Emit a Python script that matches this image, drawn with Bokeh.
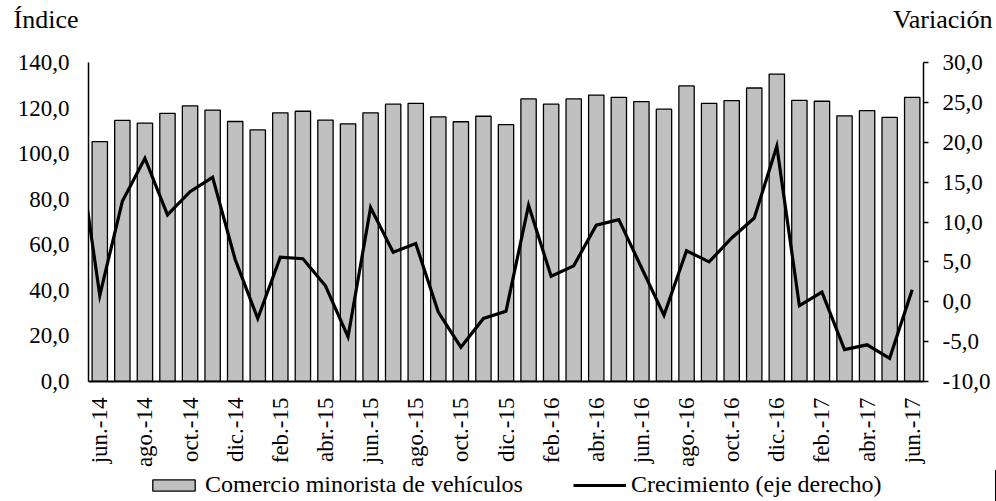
import math
from bokeh.plotting import figure
from bokeh.layouts import column
from bokeh.models import (ColumnDataSource, Range1d, LinearAxis, FixedTicker,
                          Legend, LegendItem, Label)
from bokeh.embed import file_html
from bokeh.resources import INLINE

# ---- data ----
meses = ["jun.-14", "jul.-14", "ago.-14", "sep.-14", "oct.-14", "nov.-14", "dic.-14",
         "ene.-15", "feb.-15", "mar.-15", "abr.-15", "may.-15", "jun.-15", "jul.-15",
         "ago.-15", "sep.-15", "oct.-15", "nov.-15", "dic.-15", "ene.-16", "feb.-16",
         "mar.-16", "abr.-16", "may.-16", "jun.-16", "jul.-16", "ago.-16", "sep.-16",
         "oct.-16", "nov.-16", "dic.-16", "ene.-17", "feb.-17", "mar.-17", "abr.-17",
         "may.-17", "jun.-17"]
indice = [105.3, 114.6, 113.4, 117.7, 121.0, 119.1, 114.1, 110.4, 117.9, 118.6,
          114.7, 113.1, 117.9, 121.7, 122.1, 116.1, 114.0, 116.4, 112.7, 124.0,
          121.7, 124.0, 125.7, 124.7, 122.8, 119.5, 129.7, 122.1, 123.3, 128.8,
          134.9, 123.4, 123.0, 116.6, 118.9, 115.9, 124.7]
crecimiento = [0.8, 12.6, 18.0, 10.9, 13.8, 15.6, 5.3, -2.1, 5.6, 5.4,
               2.0, -4.4, 11.8, 6.2, 7.3, -1.3, -5.7, -2.1, -1.2, 12.1,
               3.2, 4.5, 9.6, 10.3, 4.3, -1.7, 6.4, 5.0, 8.0, 10.5,
               19.5, -0.5, 1.2, -6.0, -5.4, -7.1, 1.5]
crecimiento_previo = 20.6  # may.-14, only its segment into the frame is visible
ticks_izq = [0, 20, 40, 60, 80, 100, 120, 140]
ticks_der = [-10, -5, 0, 5, 10, 15, 20, 25, 30]
titulo_izq = "Índice"
titulo_der = "Variación"
serie_barras = "Comercio minorista de vehículos"
serie_linea = "Crecimiento (eje derecho)"

FONT = "Liberation Serif"
FS = "23px"
W = 996
BAR_STYLE = dict(fill_color="#C0C0C0", line_color="black", line_width=1.3)
LINE_STYLE = dict(line_color="black", line_width=3.2, line_join="miter")

def coma(v):
    return f"{v:.1f}".replace(".", ",")

def bare(h, xr=(0, 1)):
    f = figure(width=W, height=h, output_backend="svg", toolbar_location=None,
               x_range=Range1d(*xr), y_range=Range1d(0, 1),
               x_axis_type=None, y_axis_type=None, frame_align=False,
               min_border_left=0, min_border_right=0, min_border_top=0, min_border_bottom=0)
    f.outline_line_color = None
    f.xgrid.visible = False
    f.ygrid.visible = False
    return f

# ---- top strip with the axis titles ----
top = bare(40)
top.add_layout(Label(x=13, y=21, x_units="screen", y_units="screen", text=titulo_izq,
                     text_font=FONT, text_font_size="26px", text_color="black",
                     text_baseline="middle", text_align="left"))
top.add_layout(Label(x=W - 4, y=21, x_units="screen", y_units="screen", text=titulo_der,
                     text_font=FONT, text_font_size="26px", text_color="black",
                     text_baseline="middle", text_align="right"))

# ---- main chart ----
x = list(range(len(meses)))
src_bar = ColumnDataSource(dict(x=x, indice=indice))
src_line = ColumnDataSource(dict(x=[-1] + x, y=[crecimiento_previo] + crecimiento))

p = figure(width=W, height=430, output_backend="svg", toolbar_location=None,
           x_range=Range1d(-0.5, len(meses) - 0.5), y_range=Range1d(0, 140),
           min_border_left=88, min_border_right=73, min_border_top=22,
           min_border_bottom=87, frame_align=False)
p.extra_y_ranges = {"der": Range1d(-10, 30)}
p.outline_line_color = None
p.xgrid.visible = False
p.ygrid.visible = False

p.vbar(x="x", top="indice", width=0.68, source=src_bar, **BAR_STYLE)
p.line(x="x", y="y", source=src_line, y_range_name="der", **LINE_STYLE)

ya = p.yaxis[0]
ya.ticker = FixedTicker(ticks=ticks_izq)
ya.major_label_overrides = {t: coma(t) for t in ticks_izq}
ya.major_tick_out = 0
ya.major_tick_in = 0
ya.minor_tick_out = 0
ya.minor_tick_in = 0
ya.axis_line_color = "black"
ya.axis_line_width = 1.5
ya.major_label_standoff = 19
ya.major_label_text_font = FONT
ya.major_label_text_font_size = FS
ya.major_label_text_color = "black"

yr = LinearAxis(y_range_name="der", ticker=FixedTicker(ticks=ticks_der))
yr.major_label_overrides = {t: coma(t) for t in ticks_der}
yr.major_tick_out = 5
yr.major_tick_in = 0
yr.minor_tick_out = 0
yr.minor_tick_in = 0
yr.axis_line_color = "black"
yr.axis_line_width = 1.5
yr.major_tick_line_width = 1.5
yr.major_label_standoff = 14
yr.major_label_text_font = FONT
yr.major_label_text_font_size = FS
yr.major_label_text_color = "black"
p.add_layout(yr, "right")

xa = p.xaxis[0]
xa.ticker = FixedTicker(ticks=[i for i in x if i % 2 == 0])
xa.major_label_overrides = {i: meses[i] for i in x if i % 2 == 0}
xa.major_label_orientation = math.pi / 2
xa.major_tick_out = 0
xa.major_tick_in = 0
xa.minor_tick_out = 0
xa.minor_tick_in = 0
xa.axis_line_color = "black"
xa.axis_line_width = 2
xa.major_label_standoff = 16
xa.major_label_text_font = FONT
xa.major_label_text_font_size = FS
xa.major_label_text_color = "black"

# ---- bottom strip with the legend (same series, drawn outside its visible range) ----
bot = bare(31, xr=(-10, -9))
r_bar = bot.vbar(x="x", top="indice", width=0.68, source=src_bar, **BAR_STYLE)
r_line = bot.line(x="x", y="y", source=src_line, **LINE_STYLE)
legend = Legend(items=[LegendItem(label=serie_barras, renderers=[r_bar]),
                       LegendItem(label=serie_linea, renderers=[r_line])],
                orientation="horizontal", location=(147, 3),
                glyph_width=53, glyph_height=14, label_standoff=5, spacing=50,
                label_height=24, label_text_font=FONT, label_text_font_size="24px",
                label_text_color="black", label_text_baseline="middle",
                border_line_color=None, background_fill_alpha=0,
                padding=0, margin=0)
bot.add_layout(legend, "center")

layout = column(top, p, bot, spacing=0)
open("out.html", "w").write(file_html(layout, INLINE))
